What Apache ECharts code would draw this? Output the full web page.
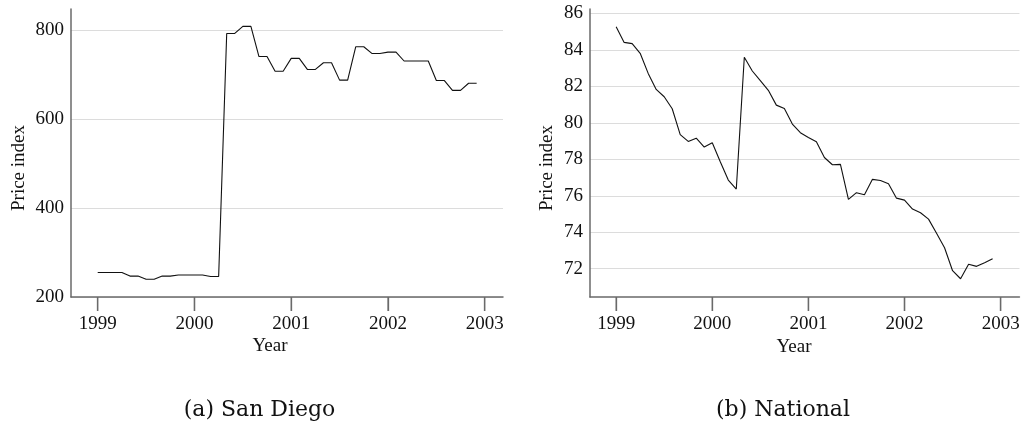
<!DOCTYPE html>
<html><head><meta charset="utf-8">
<script src="https://cdn.jsdelivr.net/npm/echarts@6/dist/echarts.min.js"></script>
<style>html,body{margin:0;padding:0;background:#fff}#c{width:1025px;height:431px}</style>
</head><body><div id="c"></div>
<script>
const startYear = 1999;
const yearTicks = [1999, 2000, 2001, 2002, 2003];
const sanDiegoTicks = [200, 400, 600, 800];
const nationalTicks = [72, 74, 76, 78, 80, 82, 84, 86];
const sanDiego = [255,255,255,255,247,247,240,240,247,247,249.5,249.5,249.5,249.5,246,246,793,793,809,809,741,741,708,708,737,737,712,712,727,727,688,688,763,763,748,748,751,751,731,731,731,731,687,687,665,665,681,681];
const national = [85.27,84.41,84.34,83.81,82.71,81.83,81.43,80.77,79.35,78.98,79.16,78.67,78.91,77.87,76.86,76.37,83.59,82.84,82.31,81.78,80.97,80.79,79.93,79.46,79.20,78.96,78.10,77.70,77.72,75.80,76.17,76.06,76.90,76.84,76.66,75.87,75.76,75.27,75.07,74.72,73.94,73.15,71.89,71.45,72.25,72.13,72.33,72.55];
const months = sanDiego.map((_, i) => startYear + i / 12);

const serifFont = 'Liberation Serif';
const axisCol = '#6a6a6a';
const xRanges = [[1998.724, 2003.189], [1998.728, 2003.196]];
const yMins = [200, 70.45];
function xAxis(idx) {
  return {
    type: 'value', gridIndex: idx, min: xRanges[idx][0], max: xRanges[idx][1],
    axisLine: { show: true, lineStyle: { color: axisCol, width: 1.5 } },
    axisTick: { show: true, length: 14, customValues: yearTicks, lineStyle: { color: axisCol, width: 1.3 } },
    axisLabel: { customValues: yearTicks, fontFamily: serifFont, fontSize: 19, color: 'rgba(0,0,0,0)', margin: 19 },
    splitLine: { show: false }
  };
}
function yAxis(idx, min, max, ticks) {
  return {
    type: 'value', gridIndex: idx, min: min, max: max,
    axisLine: { show: true, lineStyle: { color: axisCol, width: 1.5 } },
    axisTick: { show: false, customValues: ticks },
    axisLabel: { customValues: ticks, fontFamily: serifFont, fontSize: 19, color: '#111', margin: 7 },
    splitLine: { show: true, lineStyle: { color: '#dcdcdc', width: 1 } }
  };
}
// year tick marks, drawn through the axes' scales, hanging below the x axis
function tickSeries(idx) {
  return {
    type: 'scatter', xAxisIndex: idx, yAxisIndex: idx, silent: true, clip: false, z: 3,
    symbol: 'rect', symbolSize: [1.4, 14], symbolOffset: [0, 7],
    itemStyle: { color: axisCol },
    data: yearTicks.map(y => [y, yMins[idx]])
  };
}
function txt(s, x, y, rot, font, size) {
  return { type: 'text', x: x, y: y, rotation: rot,
    style: { text: s, fill: '#111', font: size + 'px "' + font + '"', align: 'center', verticalAlign: 'middle' } };
}
const chart = echarts.init(document.getElementById('c'));
chart.setOption({
  animation: false,
  backgroundColor: '#fff',
  grid: [
    { left: 71, top: 9, width: 432, height: 288 },
    { left: 590, top: 9, width: 432, height: 288 }
  ],
  xAxis: [xAxis(0), xAxis(1)],
  yAxis: [yAxis(0, 200, 848, sanDiegoTicks), yAxis(1, 70.45, 86.24, nationalTicks)],
  series: [
    { type: 'line', xAxisIndex: 0, yAxisIndex: 0, showSymbol: false, lineStyle: { color: '#111', width: 1.1 },
      data: months.map((m, i) => [m, sanDiego[i]]) },
    { type: 'line', xAxisIndex: 1, yAxisIndex: 1, showSymbol: false, lineStyle: { color: '#111', width: 1.1 },
      data: months.map((m, i) => [m, national[i]]) },
    tickSeries(0), tickSeries(1)
  ]
});
// year labels placed through the axes' own scales (plain numbers, no thousands separator)
const yearLabels = [];
[0, 1].forEach(function (idx) {
  const axisY = chart.convertToPixel({ yAxisIndex: idx }, yMins[idx]);
  yearTicks.forEach(function (yr) {
    const px = chart.convertToPixel({ xAxisIndex: idx }, yr);
    yearLabels.push(txt(String(yr), px, axisY + 27, 0, serifFont, 19));
  });
});
chart.setOption({
  graphic: yearLabels.concat([
    txt('Price index', 19.5, 168, Math.PI / 2, serifFont, 19),
    txt('Price index', 547.5, 168, Math.PI / 2, serifFont, 19),
    txt('Year', 270, 346, 0, serifFont, 19),
    txt('Year', 794, 347, 0, serifFont, 19),
    txt('(a) San Diego', 259.5, 410, 0, 'DejaVu Serif', 22),
    txt('(b) National', 783, 410, 0, 'DejaVu Serif', 22)
  ])
});
</script></body></html>
